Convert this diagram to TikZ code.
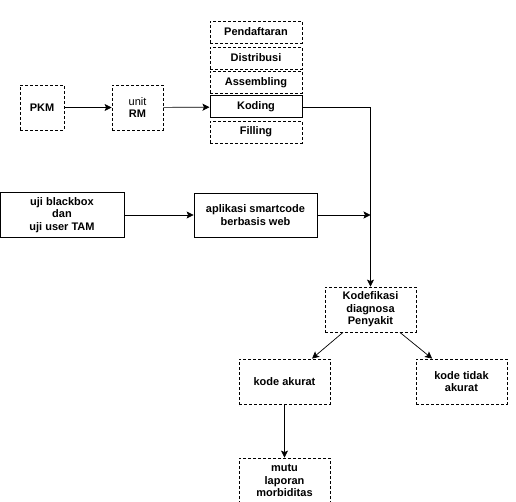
\documentclass[tikz,border=0pt]{standalone}
\usepackage{fontspec}
\setmainfont{Liberation Sans}
\usepackage{tikz}
\usetikzlibrary{arrows.meta,calc}
\tikzset{
box/.style = {rectangle, draw=black, line width=0.8pt, minimum width=#1,
              minimum height=45pt, inner sep=2pt, align=center,
              font=\fontsize{11}{12.5}\selectfont\bfseries},
box/.default = 91pt, % width of the box
dbox/.style = {box=#1, dash pattern=on 3pt off 2pt},
dbox/.default = 91pt,
}
\tikzset{
arr/.style = {-{Stealth[length=7pt,width=7pt,inset=1.5pt]}, line width=0.7pt},
}

\begin{document}
\begin{tikzpicture}[x=1pt,y=-1pt]
  \useasboundingbox (0,0) rectangle (516,502);

  % Boxes (top row)
    \node[dbox=44] (pkm) at (42,107.5) {PKM};
    \node[dbox=51] (unitRM) at (137.5,107.5) {\mdseries unit\\RM};

  % Stack
    \node[dbox=92, minimum height=22pt] (pendaftaran) at (256,32) {Pendaftaran};
    \node[dbox=92, minimum height=22pt] (distribusi) at (256,58) {Distribusi};
    \node[dbox=92, minimum height=22pt] (assembling) at (256,82.5) {Assembling};
    \node[box=92, minimum height=22pt, line width=1pt] (koding) at (256,107) {Koding};
    \node[dbox=92, minimum height=22pt] (filling) at (256,132) {Filling};

  % Boxes (middle row)
    \node[box=124] (ujiBox) at (62,215) {uji blackbox\\dan\\uji user TAM};
    \node[box=123, minimum height=44pt] (appBox) at (255.5,215) {aplikasi smartcode\\berbasis web};

  % Boxes (bottom)
    \node[dbox] (kodef) at (370.5,309.5) {Kodefikasi\\diagnosa\\Penyakit};
    \node[dbox] (akurat) at (284.5,381.5) {kode akurat};
    \node[dbox] (tidak) at (461.5,381.5) {kode tidak\\akurat};
    \node[dbox] (mutu) at (284.5,480.5) {mutu\\laporan\\morbiditas};

  % Node
    \coordinate (join) at (appBox.east -| kodef.north);

  % Lines
    \draw[arr] (pkm) -- (unitRM);
    \draw[arr] (unitRM) -- (koding);
    \draw[arr] (koding.east) -| (kodef.north);
    \draw[arr] (ujiBox) -- (appBox);
    \draw[arr] (appBox.east) -- (join);
    \draw[arr] ($(kodef.south west)!0.2!(kodef.south east)$) -- ($(akurat.north west)!0.8!(akurat.north east)$);
    \draw[arr] ($(kodef.south west)!0.82!(kodef.south east)$) -- ($(tidak.north west)!0.18!(tidak.north east)$);
    \draw[arr] (akurat) -- (mutu);
\end{tikzpicture}
\end{document}
